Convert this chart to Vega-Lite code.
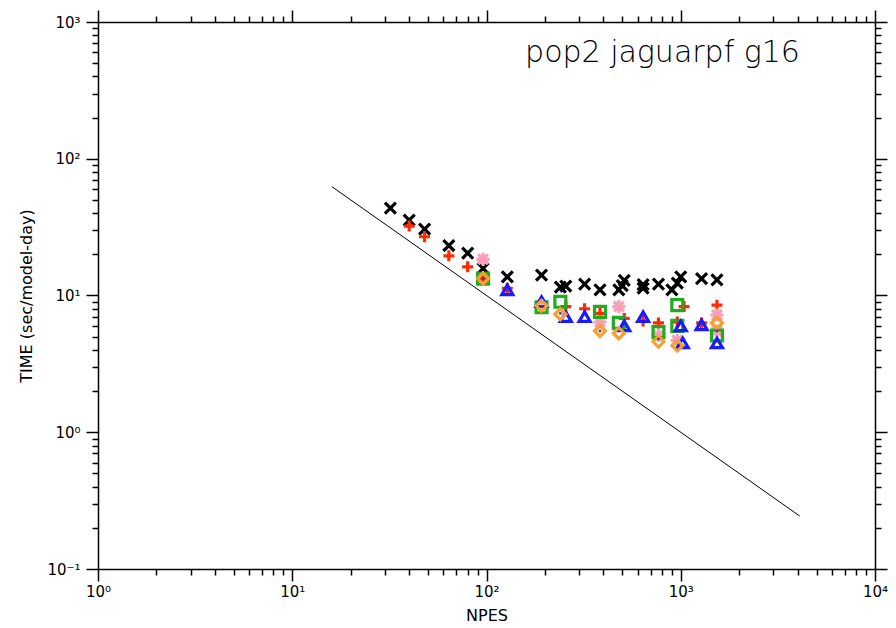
{
  "$schema": "https://vega.github.io/schema/vega-lite/v6.json",
  "width": 777,
  "height": 547,
  "autosize": "none",
  "padding": {"left": 98, "top": 22, "right": 21, "bottom": 59},
  "background": "white",
  "config": {
    "view": {"stroke": null},
    "axis": {
      "domainColor": "black",
      "domainWidth": 1.5,
      "tickColor": "black",
      "tickWidth": 1.5,
      "grid": false,
      "labelFont": "DejaVu Sans",
      "labelFontSize": 15,
      "labelColor": "black",
      "titleFont": "DejaVu Sans",
      "titleFontSize": 16,
      "titleFontWeight": "normal",
      "titleColor": "black",
      "labelFlush": false,
      "labelOverlap": false
    }
  },
  "datasets": {
    "ideal": [
      {"N": 16, "T": 62.5},
      {"N": 4096, "T": 0.244}
    ],
    "runs": [
      {"N": 32, "T": 43.6, "series": "x"},
      {"N": 40, "T": 35.6, "series": "x"},
      {"N": 48, "T": 30.6, "series": "x"},
      {"N": 64, "T": 23.2, "series": "x"},
      {"N": 80, "T": 20.4, "series": "x"},
      {"N": 96, "T": 15.8, "series": "x"},
      {"N": 128, "T": 13.7, "series": "x"},
      {"N": 192, "T": 14.1, "series": "x"},
      {"N": 240, "T": 11.5, "series": "x"},
      {"N": 256, "T": 11.7, "series": "x"},
      {"N": 320, "T": 12.1, "series": "x"},
      {"N": 384, "T": 11.0, "series": "x"},
      {"N": 480, "T": 11.0, "series": "x"},
      {"N": 512, "T": 12.9, "series": "x"},
      {"N": 500, "T": 11.8, "series": "x"},
      {"N": 640, "T": 11.3, "series": "x"},
      {"N": 640, "T": 12.0, "series": "x"},
      {"N": 768, "T": 12.1, "series": "x"},
      {"N": 900, "T": 11.0, "series": "x"},
      {"N": 960, "T": 12.3, "series": "x"},
      {"N": 1000, "T": 13.7, "series": "x"},
      {"N": 1280, "T": 13.3, "series": "x"},
      {"N": 1536, "T": 13.0, "series": "x"},

      {"N": 40, "T": 32.2, "series": "plus"},
      {"N": 48, "T": 26.9, "series": "plus"},
      {"N": 64, "T": 19.5, "series": "plus"},
      {"N": 80, "T": 16.2, "series": "plus"},
      {"N": 96, "T": 13.3, "series": "plus"},
      {"N": 128, "T": 11.3, "series": "plus"},
      {"N": 256, "T": 8.3, "series": "plus"},
      {"N": 320, "T": 8.0, "series": "plus"},
      {"N": 384, "T": 7.4, "series": "plus"},
      {"N": 512, "T": 6.8, "series": "plus"},
      {"N": 640, "T": 6.5, "series": "plus"},
      {"N": 768, "T": 6.3, "series": "plus"},
      {"N": 1040, "T": 8.3, "series": "plus"},
      {"N": 960, "T": 6.4, "series": "plus"},
      {"N": 1280, "T": 6.3, "series": "plus"},
      {"N": 1536, "T": 8.5, "series": "plus"},

      {"N": 96, "T": 18.4, "series": "star"},
      {"N": 384, "T": 6.4, "series": "star"},
      {"N": 480, "T": 8.3, "series": "star"},
      {"N": 768, "T": 5.1, "series": "star"},
      {"N": 960, "T": 4.7, "series": "star"},
      {"N": 1536, "T": 7.2, "series": "star"},
      {"N": 1536, "T": 5.5, "series": "star"},

      {"N": 96, "T": 13.3, "series": "square"},
      {"N": 192, "T": 8.2, "series": "square"},
      {"N": 240, "T": 9.0, "series": "square"},
      {"N": 384, "T": 7.6, "series": "square"},
      {"N": 480, "T": 6.3, "series": "square"},
      {"N": 768, "T": 5.4, "series": "square"},
      {"N": 960, "T": 8.5, "series": "square"},
      {"N": 960, "T": 6.0, "series": "square"},
      {"N": 1536, "T": 5.1, "series": "square"},

      {"N": 128, "T": 11.0, "series": "triangle"},
      {"N": 192, "T": 9.0, "series": "triangle"},
      {"N": 256, "T": 7.0, "series": "triangle"},
      {"N": 320, "T": 7.0, "series": "triangle"},
      {"N": 512, "T": 6.0, "series": "triangle"},
      {"N": 640, "T": 7.0, "series": "triangle"},
      {"N": 1000, "T": 6.0, "series": "triangle"},
      {"N": 1024, "T": 4.5, "series": "triangle"},
      {"N": 1280, "T": 6.1, "series": "triangle"},
      {"N": 1536, "T": 4.5, "series": "triangle"},

      {"N": 96, "T": 13.3, "series": "diamond"},
      {"N": 192, "T": 8.4, "series": "diamond"},
      {"N": 240, "T": 7.3, "series": "diamond"},
      {"N": 384, "T": 5.5, "series": "diamond"},
      {"N": 480, "T": 5.3, "series": "diamond"},
      {"N": 768, "T": 4.6, "series": "diamond"},
      {"N": 960, "T": 4.3, "series": "diamond"},
      {"N": 1536, "T": 6.3, "series": "diamond"}
    ],
    "dots": [
      {"N": 96, "T": 13.3},
      {"N": 128, "T": 11.0},
      {"N": 192, "T": 8.4},
      {"N": 240, "T": 7.4},
      {"N": 384, "T": 5.5},
      {"N": 768, "T": 4.8},
      {"N": 1536, "T": 5.5}
    ]
  },
  "resolve": {"axis": {"x": "independent", "y": "independent"}},
  "layer": [
    {
      "data": {"name": "ideal"},
      "mark": {"type": "line", "color": "black", "strokeWidth": 1},
      "encoding": {
        "x": {
          "field": "N", "type": "quantitative", "title": "NPES",
          "scale": {"type": "log", "domain": [1, 10000], "nice": false},
          "axis": {
            "orient": "bottom",
            "values": [1,2,3,4,5,6,7,8,9,10,20,30,40,50,60,70,80,90,100,200,300,400,500,600,700,800,900,1000,2000,3000,4000,5000,6000,7000,8000,9000,10000],
            "tickSize": {"condition": {"test": "datum.value==1||datum.value==10||datum.value==100||datum.value==1000||datum.value==10000", "value": 12}, "value": 6},
            "labelExpr": "datum.value==1?'10⁰':datum.value==10?'10¹':datum.value==100?'10²':datum.value==1000?'10³':datum.value==10000?'10⁴':''",
            "labelPadding": 3,
            "titlePadding": 8
          }
        },
        "y": {
          "field": "T", "type": "quantitative", "title": "TIME (sec/model-day)",
          "scale": {"type": "log", "domain": [0.1, 1000], "nice": false},
          "axis": {
            "orient": "left",
            "values": [0.1,0.2,0.3,0.4,0.5,0.6,0.7,0.8,0.9,1,2,3,4,5,6,7,8,9,10,20,30,40,50,60,70,80,90,100,200,300,400,500,600,700,800,900,1000],
            "tickSize": {"condition": {"test": "datum.value==0.1||datum.value==1||datum.value==10||datum.value==100||datum.value==1000", "value": 12}, "value": 6},
            "labelExpr": "datum.value==0.1?'10⁻¹':datum.value==1?'10⁰':datum.value==10?'10¹':datum.value==100?'10²':datum.value==1000?'10³':''",
            "labelPadding": 6,
            "titlePadding": 12
          }
        }
      }
    },
    {
      "data": {"name": "runs"},
      "mark": {"type": "point", "filled": false, "strokeWidth": 3.2, "opacity": 1, "size": 120},
      "encoding": {
        "x": {
          "field": "N", "type": "quantitative",
          "scale": {"type": "log", "domain": [1, 10000], "nice": false},
          "axis": {
            "orient": "top", "title": null, "labels": false,
            "values": [1,2,3,4,5,6,7,8,9,10,20,30,40,50,60,70,80,90,100,200,300,400,500,600,700,800,900,1000,2000,3000,4000,5000,6000,7000,8000,9000,10000],
            "tickSize": {"condition": {"test": "datum.value==1||datum.value==10||datum.value==100||datum.value==1000||datum.value==10000", "value": 12}, "value": 6}
          }
        },
        "y": {
          "field": "T", "type": "quantitative",
          "scale": {"type": "log", "domain": [0.1, 1000], "nice": false},
          "axis": {
            "orient": "right", "title": null, "labels": false,
            "values": [0.1,0.2,0.3,0.4,0.5,0.6,0.7,0.8,0.9,1,2,3,4,5,6,7,8,9,10,20,30,40,50,60,70,80,90,100,200,300,400,500,600,700,800,900,1000],
            "tickSize": {"condition": {"test": "datum.value==0.1||datum.value==1||datum.value==10||datum.value==100||datum.value==1000", "value": 12}, "value": 6}
          }
        },
        "color": {
          "field": "series", "type": "nominal", "legend": null,
          "scale": {
            "domain": ["x", "plus", "star", "square", "triangle", "diamond"],
            "range": ["#000000", "#ff2a00", "#f7a0b8", "#22aa22", "#1a1aff", "#f5a030"]
          }
        },
        "shape": {
          "field": "series", "type": "nominal", "legend": null,
          "scale": {
            "domain": ["x", "plus", "star", "square", "triangle", "diamond"],
            "range": [
              "M-1,-1L1,1M-1,1L1,-1",
              "M-1,0L1,0M0,-1L0,1",
              "M-1.2,0L1.2,0M0,-1.2L0,1.2M-0.9,-0.9L0.9,0.9M-0.9,0.9L0.9,-0.9",
              "square",
              "triangle-up",
              "diamond"
            ]
          }
        }
      }
    },
    {
      "data": {"name": "dots"},
      "mark": {"type": "point", "filled": true, "shape": "circle", "size": 8, "color": "#6a2a9a", "opacity": 1},
      "encoding": {
        "x": {"field": "N", "type": "quantitative", "scale": {"type": "log", "domain": [1, 10000], "nice": false}, "axis": null},
        "y": {"field": "T", "type": "quantitative", "scale": {"type": "log", "domain": [0.1, 1000], "nice": false}, "axis": null}
      }
    },
    {
      "data": {"values": [{"label": "pop2 jaguarpf g16"}]},
      "mark": {"type": "text", "font": "DejaVu Sans", "fontWeight": 200, "fontSize": 30, "align": "left", "baseline": "alphabetic", "color": "black"},
      "encoding": {
        "text": {"field": "label"},
        "x": {"datum": 158, "type": "quantitative", "scale": {"type": "log", "domain": [1, 10000], "nice": false}, "axis": null},
        "y": {"datum": 510, "type": "quantitative", "scale": {"type": "log", "domain": [0.1, 1000], "nice": false}, "axis": null}
      }
    }
  ]
}
